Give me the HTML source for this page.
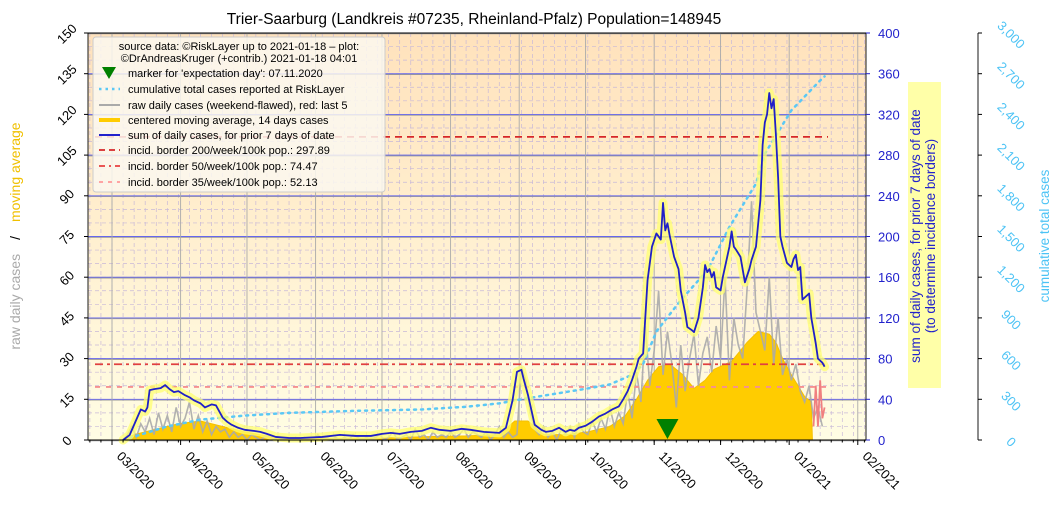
<!DOCTYPE html>
<html><head><meta charset="utf-8">
<style>
html,body{margin:0;padding:0;background:#fff;}
svg{display:block;font-family:"Liberation Sans","DejaVu Sans",sans-serif;}
</style></head>
<body>
<svg id="chart" width="1062" height="513" viewBox="0 0 1062 513" xmlns="http://www.w3.org/2000/svg">
<defs>
<linearGradient id="bg" x1="0" y1="0" x2="0" y2="1">
<stop offset="0" stop-color="#ffe2bc"/><stop offset="1" stop-color="#fffde4"/>
</linearGradient>
</defs>
<rect x="88" y="33" width="778" height="407" fill="url(#bg)"/>
<g id="grid"></g>
<g id="marks"></g>
<g id="axes"></g>
<text x="474" y="24" font-size="15.5" text-anchor="middle" fill="#000">Trier-Saarburg (Landkreis #07235, Rheinland-Pfalz) Population=148945</text>

<g>
<rect x="93" y="37" width="292" height="155" rx="3" fill="#fbf8f0" fill-opacity="0.85" stroke="#ccc"/>
<text x="239" y="50" font-size="11" text-anchor="middle">source data: ©RiskLayer up to 2021-01-18 – plot:</text>
<text x="239" y="62" font-size="11" text-anchor="middle">©DrAndreasKruger (+contrib.) 2021-01-18 04:01</text>
<polygon points="102,67 116,67 109,79" fill="#008000"/>
<text x="128" y="77" font-size="11">marker for 'expectation day': 07.11.2020</text>
<line x1="99" y1="89" x2="120" y2="89" stroke="#5bc8f5" stroke-width="2.5" stroke-dasharray="2.5 4"/>
<text x="128" y="93" font-size="11">cumulative total cases reported at RiskLayer</text>
<line x1="99" y1="105" x2="120" y2="105" stroke="#aaa" stroke-width="2"/>
<text x="128" y="109" font-size="11">raw daily cases (weekend-flawed), red: last 5</text>
<line x1="99" y1="120" x2="120" y2="120" stroke="#ffcc00" stroke-width="4"/>
<text x="128" y="124" font-size="11">centered moving average, 14 days cases</text>
<line x1="99" y1="135" x2="120" y2="135" stroke="#2222cc" stroke-width="2"/>
<text x="128" y="139" font-size="11">sum of daily cases, for prior 7 days of date</text>
<line x1="99" y1="150" x2="120" y2="150" stroke="#d62728" stroke-width="1.8" stroke-dasharray="6 4"/>
<text x="128" y="154" font-size="11">incid. border 200/week/100k pop.: 297.89</text>
<line x1="99" y1="166" x2="120" y2="166" stroke="#e74040" stroke-width="1.8" stroke-dasharray="6 4 2 4"/>
<text x="128" y="170" font-size="11">incid. border 50/week/100k pop.: 74.47</text>
<line x1="99" y1="182" x2="120" y2="182" stroke="#f99" stroke-width="1.8" stroke-dasharray="4 5"/>
<text x="128" y="186" font-size="11">incid. border 35/week/100k pop.: 52.13</text>
</g>

<text transform="translate(20,236) rotate(-90)" font-size="14" text-anchor="middle"><tspan fill="#aaa">raw daily cases</tspan><tspan fill="#000" dx="14">/</tspan><tspan fill="#f0c000" dx="14">moving average</tspan></text>
<rect x="908" y="82" width="33" height="306" fill="#ffffa8"/>
<text transform="translate(920,236) rotate(-90)" font-size="13.5" text-anchor="middle" fill="#2222cc">sum of daily cases, for prior 7 days of date</text>
<text transform="translate(935,236) rotate(-90)" font-size="13.5" text-anchor="middle" fill="#2222cc">(to determine incidence borders)</text>
<text transform="translate(1049,236) rotate(-90)" font-size="13.5" text-anchor="middle" fill="#4cc3f5">cumulative total cases</text>

<script>
// ---- data ----
const monthLabels = ["03/2020","04/2020","05/2020","06/2020","07/2020","08/2020","09/2020","10/2020","11/2020","12/2020","01/2021","02/2021"];
const monthDays = [0,31,61,92,122,153,184,214,245,275,306,337]; // days since 2020-03-01
const leftTicks = [0,15,30,45,60,75,90,105,120,135,150];
const rightTicks = [0,40,80,120,160,200,240,280,320,360,400];
const cumTicks = [0,300,600,900,1200,1500,1800,2100,2400,2700,3000];
const sumDaysA = [5,8,11,13,15,16,17,19,22,24,26,28,30,33,35,37,40,42,45,47,50,52,54,57,60,64,67,70,74,80,85,95,103,110,117,122,126,130,135,140,144,148,153,158,162,168,175,178,181,183,185,186,188,191,194,196,199,202,205,207,209,211,214,217,220,223,226,229];
const sumValsA = [0,5,20,30,28,32,49,50,51,54,50,47,48,44,42,39,36,32,35,34,22,18,15,12,10,9,8,6,3,2,2,3,5,4,4,6,7,6,8,9,12,10,9,11,10,8,7,12,39,67,69,60,44,15,10,8,9,12,8,10,9,12,14,18,23,26,30,33];
const sumDaysB = [231,233,235,237,238,240,242,244,246,248,249,250,251,252,254,256,257,259,260,262,263,265,267,268,269,270,271,272,273,275,276,277,279,280,281,282,284,286,288,289,291,293,294,295,296,297,298,299,300,301,302,303,305,307,308,309,310,311,312,313,315,316,318,319,321,322];
const sumValsB = [40,48,59,72,80,85,157,190,203,197,233,206,213,201,180,168,147,125,111,108,106,120,150,172,165,168,160,165,150,147,160,170,190,205,190,187,180,155,168,177,190,236,290,312,320,341,326,335,300,258,200,190,174,170,178,182,167,170,138,140,144,120,95,80,76,72];
const avgDays = [5,10,20,30,40,50,60,70,80,100,120,140,160,175,182,188,195,205,215,225,232,237,242,247,252,258,263,268,272,280,287,292,297,300,303,307,310,313,316,316.5];
const avgVals = [0,2,4,6,7,5,3,1.5,1,0.5,0.7,1.2,1.5,2,7,7,2,2,3,5,9,15,22,27,28,24,19,22,26,29,36,40,39,36,30,24,20,16,14,0];
const rawStart = 5, rawStep = 2;
const rawVals = [0,2,5,1,6,3,8,2,10,4,9,3,12,5,8,14,4,9,3,7,2,5,3,4,1,3,1,2,0,2,1,0,1,2,0,1,0,1,0,1,
 0,1,0,0,2,0,1,0,1,0,1,0,2,1,0,1,0,1,2,0,1,3,0,1,2,0,4,1,2,0,3,1,2,1,3,1,2,4,1,3,
 2,1,3,0,2,5,1,3,1,2,27,22,10,4,2,5,1,3,0,4,2,5,1,6,3,2,7,3,8,4,12,5,10,6,
 18,8,25,14,42,20,33,55,24,40,28,12,35,18,30,39,20,32,38,25,42,30,60,22,45,35,30,56,88,47,40,33,60,28,45,24,30,22,28,18,14,20,8,12,5];
const redDays = [317,318,319,320,321,322];
const redVals = [5,20,5,22,8,12];
const cumDays = [5,25,40,60,80,110,140,160,175,185,200,215,225,235,240,246,257,269,279,291,295,307,320,322];
const cumVals = [0,100,150,180,200,215,225,245,270,300,340,380,410,480,560,800,1030,1250,1570,1890,2110,2430,2650,2680];
const borderVals = [297.89,74.47,52.13];
const expectDay = 251;

// ---- scales ----
const X0=112, PXD=2.213, YB=440, YT=33;
const xS=d=>X0+d*PXD;
const yL=v=>YB-v*(YB-YT)/150;
const yR=v=>YB-v*(YB-YT)/400;
const yC=v=>YB-v*(YB-YT)/3000;
const NS="http://www.w3.org/2000/svg";
function mk(tag,attrs,parent){const e=document.createElementNS(NS,tag);for(const k in attrs)e.setAttribute(k,attrs[k]);parent.appendChild(e);return e;}
const grid=document.getElementById('grid'), marks=document.getElementById('marks'), axes=document.getElementById('axes');

for(let v=0;v<=150;v+=5){const l=mk('line',{x1:88,x2:866,y1:yL(v),y2:yL(v),stroke:'#c8b8d8','stroke-width':0.7,'stroke-dasharray':'4 3'},grid);

}
for(let d=-10;d<=340;d+=5){const x=xS(d);if(x<88||x>866)continue;const l=mk('line',{x1:x,x2:x,y1:YT,y2:YB,stroke:'#c8b8d8','stroke-width':0.7,'stroke-dasharray':'4 3'},grid);

}
leftTicks.forEach(v=>{const l=mk('line',{x1:88,x2:866,y1:yL(v)+0.8,y2:yL(v)+0.8,stroke:'#999','stroke-width':0.9},grid);

});
rightTicks.forEach(v=>{const l=mk('line',{x1:88,x2:866,y1:yR(v),y2:yR(v),stroke:'#6666ee','stroke-width':0.9},grid);

});
monthDays.forEach(d=>{const l=mk('line',{x1:xS(d),x2:xS(d),y1:YT,y2:YB,stroke:'#aaa','stroke-width':0.9},grid);

});

let p=`M${xS(avgDays[0])},${YB}`;avgDays.forEach((d,i)=>p+=`L${xS(d)},${yL(avgVals[i])}`);p+=`L${xS(avgDays[avgDays.length-1])},${YB}Z`;
const area=mk('path',{d:p,fill:'#ffcc00',stroke:'#f5c000','stroke-width':1},marks);



let rp='';rawVals.forEach((v,i)=>rp+=(i?'L':'M')+xS(rawStart+i*rawStep)+','+yL(v));
const raw=mk('path',{d:rp,fill:'none',stroke:'#aaa','stroke-width':1.6,'stroke-opacity':0.9},marks);


let redp='';redVals.forEach((v,i)=>redp+=(i?'L':'M')+xS(redDays[i])+','+yL(v));
const red=mk('path',{d:redp,fill:'none',stroke:'#f08080','stroke-width':1.8},marks);



const bStyles=[['#d62728','7 5'],['#e04040','8 4 3 4'],['#f59090','5 6']];
borderVals.forEach((v,i)=>{const l=mk('line',{x1:95,x2:828,y1:yR(v),y2:yR(v),stroke:bStyles[i][0],'stroke-width':1.8,'stroke-dasharray':bStyles[i][1]},marks);

});

let cp='';cumDays.forEach((d,i)=>cp+=(i?'L':'M')+xS(d)+','+yC(cumVals[i]));
const cum=mk('path',{d:cp,fill:'none',stroke:'#5bc8f5','stroke-width':2.5,'stroke-dasharray':'2 5','stroke-linecap':'round'},marks);



const sumDays=sumDaysA.concat(sumDaysB), sumVals=sumValsA.concat(sumValsB);
let sp='';sumDays.forEach((d,i)=>sp+=(i?'L':'M')+xS(d)+','+yR(sumVals[i]));
const glow=mk('path',{d:sp,fill:'none',stroke:'#ffff70','stroke-width':9,'stroke-opacity':0.75,'stroke-linejoin':'round','stroke-linecap':'round'},marks);


const sum=mk('path',{d:sp,fill:'none',stroke:'#2020c8','stroke-width':1.8,'stroke-linejoin':'round'},marks);



const ex=xS(expectDay);
const tri=mk('polygon',{points:`${ex-11},419 ${ex+11},419 ${ex},439`,fill:'#008000'},marks);



[[88,YT,88,YB],[866,YT,866,YB],[88,YB,866,YB],[88,YT,866,YT],[978,YT,978,YB]].forEach(s=>{const l=mk('line',{x1:s[0],y1:s[1],x2:s[2],y2:s[3],stroke:'#000','stroke-width':0.9},axes);

});
leftTicks.forEach(v=>{const y=yL(v);mk('line',{x1:84,x2:88,y1:y,y2:y,stroke:'#000'},axes);
const t=mk('text',{x:0,y:0,transform:`translate(70,${y+4}) rotate(-45)`,'font-size':13,'text-anchor':'middle',fill:'#000'},axes);t.textContent=v;

});
rightTicks.forEach(v=>{const y=yR(v);mk('line',{x1:866,x2:870,y1:y,y2:y,stroke:'#2222cc'},axes);
const t=mk('text',{x:878,y:y+5,'font-size':13,fill:'#2222cc'},axes);t.textContent=v;

});
cumTicks.forEach(v=>{const y=yC(v);mk('line',{x1:978,x2:982,y1:y,y2:y,stroke:'#000'},axes);
const t=mk('text',{x:0,y:0,transform:`translate(1008,${y+5}) rotate(45)`,'font-size':13,'text-anchor':'middle',fill:'#4cc3f5'},axes);t.textContent=v.toLocaleString('en-US');

});
for(let d=-10;d<=340;d+=5){const x=xS(d);if(x<88||x>866)continue;mk('line',{x1:x,x2:x,y1:YB,y2:YB+2.5,stroke:'#000'},axes);}
monthDays.forEach((d,i)=>{const x=xS(d);mk('line',{x1:x,x2:x,y1:YB,y2:YB+5,stroke:'#000'},axes);
const t=mk('text',{x:0,y:0,transform:`translate(${x+4},${YB+17}) rotate(45)`,'font-size':13,fill:'#000'},axes);t.textContent=monthLabels[i];

});
</script>
</svg>
</body></html>
